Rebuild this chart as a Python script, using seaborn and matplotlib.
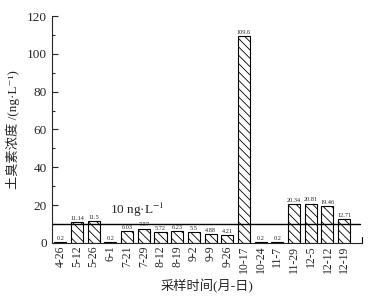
import matplotlib
matplotlib.use("Agg")
import matplotlib.pyplot as plt
import seaborn as sns
import pandas as pd
from matplotlib.ticker import MultipleLocator

# data
dates = ['4-26', '5-12', '5-26', '6-1', '7-21', '7-29', '8-12', '8-19', '9-2',
         '9-9', '9-26', '10-17', '10-24', '11-7', '11-29', '12-5', '12-12', '12-19']
geosmin = [0.2, 11.14, 11.5, 0.2, 6.03, 7.57, 5.72, 6.23, 5.5,
           4.88, 4.21, 109.6, 0.2, 0.2, 20.34, 20.81, 19.46, 12.71]
labels = ['0.2', '11.14', '11.5', '0.2', '6.03', '7.57', '5.72', '6.23', '5.5',
          '4.88', '4.21', '109.6', '0.2', '0.2', '20.34', '20.81', '19.46', '12.71']
limit = 10

df = pd.DataFrame({'Date': dates, 'Geosmin': geosmin})

sns.set_style('ticks')
plt.rcParams['font.family'] = ['Liberation Serif', 'Noto Sans CJK SC', 'DejaVu Serif']
plt.rcParams['mathtext.fontset'] = 'stix'
plt.rcParams['hatch.linewidth'] = 0.6

fig = plt.figure(figsize=(3.74, 2.98), dpi=100)
ax = fig.add_axes([0.139, 0.185, 0.829, 0.761])

sns.barplot(data=df, x='Date', y='Geosmin', color='white', edgecolor='black',
            linewidth=0.8, width=0.72, ax=ax)
for p in ax.patches:
    p.set_hatch('\\\\\\\\')
    p.set_facecolor('white')

for i, (v, t) in enumerate(zip(geosmin, labels)):
    ax.text(i, v + 0.6, t, ha='center', va='bottom', fontsize=4.5)

ax.axhline(limit, color='black', linewidth=1.0, xmin=0, xmax=0.995)
ax.text(2.95, 12.5, '10 ng·L$^{-1}$', fontsize=9.5, ha='left', va='bottom')

ax.set_xlim(-0.5, 18.07)
ax.set_ylim(0, 120)
ax.yaxis.set_major_locator(MultipleLocator(20))
ax.yaxis.set_minor_locator(MultipleLocator(10))
ax.tick_params(axis='y', which='major', direction='in', length=4, width=0.8, labelsize=9.5)
ax.tick_params(axis='y', which='minor', direction='in', length=2.5, width=0.8)
ax.tick_params(axis='x', length=0, labelsize=8.5, pad=2)
plt.setp(ax.get_xticklabels(), rotation=90)

ax.spines['top'].set_visible(False)
ax.spines['right'].set_visible(False)
ax.spines['left'].set_linewidth(0.8)
ax.spines['bottom'].set_linewidth(0.8)
# small end tick at the right of the x axis
ax.plot([18.07, 18.07], [0, 3], color='black', linewidth=0.8, clip_on=False)

ax.set_ylabel('土臭素浓度 /(ng·L⁻¹)', fontsize=9.5, labelpad=5)
ax.set_xlabel('采样时间(月-日)', fontsize=9.5, labelpad=4)

plt.savefig('out.png', dpi=100)
